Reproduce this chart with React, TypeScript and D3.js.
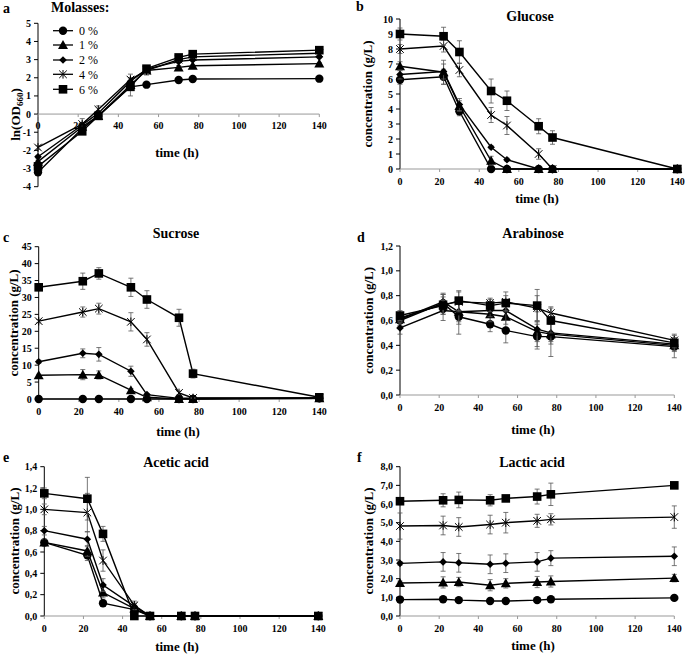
import React from "react";
import * as d3 from "d3";

// ---------- shared data ----------
const TIMES = [0, 22, 30, 46, 54, 70, 77, 140];
const SERIES_LABELS = ["0 %", "1 %", "2 %", "4 %", "6 %"];
const X_TICKS = [0, 20, 40, 60, 80, 100, 120, 140];

// a: ln(OD660)
const OD_0 = [-3.2, -0.8, -0.1, 1.5, 1.62, 1.88, 1.93, 1.95];
const OD_1 = [-2.62, -0.7, -0.1, 1.6, 2.4, 2.57, 2.66, 2.78];
const OD_2 = [-2.35, -0.6, 0.05, 1.8, 2.48, 2.9, 2.98, 3.15];
const OD_4 = [-1.84, -0.55, 0.25, 1.9, 2.4, 3.0, 3.15, 3.35];
const OD_6 = [-2.88, -0.95, -0.1, 1.5, 2.5, 3.12, 3.3, 3.52];
const OD_ERR_0 = [0.08, 0.1, 0.1, 0.5, 0.08, 0.05, 0.05, 0.05];
const OD_ERR_1 = [0.08, 0.1, 0.1, 0.2, 0.25, 0.1, 0.05, 0.05];
const OD_ERR_2 = [0.08, 0.1, 0.1, 0.2, 0.1, 0.1, 0.05, 0.05];
const OD_ERR_4 = [0.1, 0.3, 0.2, 0.3, 0.15, 0.1, 0.08, 0.05];
const OD_ERR_6 = [0.08, 0.1, 0.1, 0.15, 0.1, 0.08, 0.05, 0.05];

// b: glucose
const GLU_0 = [5.95, 6.15, 3.85, 0, 0, 0, 0, 0];
const GLU_1 = [6.85, 6.45, 4.2, 0.55, 0, 0, 0, 0];
const GLU_2 = [6.3, 6.5, 4.3, 1.45, 0.62, 0, 0, 0];
const GLU_4 = [8.0, 8.2, 6.6, 3.6, 2.9, 1.0, 0, 0];
const GLU_6 = [9.0, 8.85, 7.8, 5.2, 4.55, 2.85, 2.1, 0];
const GLU_ERR_0 = [0.3, 0.5, 0.3, 0, 0, 0, 0, 0];
const GLU_ERR_1 = [0.3, 0.8, 0.35, 0.3, 0, 0, 0, 0];
const GLU_ERR_2 = [0.3, 0.5, 0.4, 0.1, 0.1, 0, 0, 0];
const GLU_ERR_4 = [0.3, 0.4, 0.45, 0.5, 0.6, 0.35, 0, 0];
const GLU_ERR_6 = [0.4, 0.6, 0.75, 0.8, 0.65, 0.5, 0.45, 0];

// c: sucrose
const SUC_0 = [0, 0, 0, 0, 0, 0, 0, 0.2];
const SUC_1 = [7.0, 7.2, 7.1, 2.6, 0.5, 0, 0, 0.2];
const SUC_2 = [11.0, 13.5, 13.2, 8.2, 1.3, 0.2, 0.2, 0.3];
const SUC_4 = [23.0, 25.7, 26.7, 22.8, 17.6, 1.8, 0.3, 0.3];
const SUC_6 = [33.0, 34.8, 37.1, 33.0, 29.4, 24.0, 7.5, 0.5];
const SUC_ERR_0 = [0, 0, 0, 0, 0, 0, 0, 0];
const SUC_ERR_1 = [0.3, 1.5, 1.2, 0.5, 0.3, 0, 0, 0];
const SUC_ERR_2 = [0.5, 1.3, 2.0, 1.5, 0.3, 0, 0, 0];
const SUC_ERR_4 = [0.5, 1.5, 1.6, 2.7, 2.0, 0.5, 0.2, 0];
const SUC_ERR_6 = [0.5, 2.4, 1.7, 2.7, 2.6, 2.5, 1.3, 0.3];

// d: arabinose
const ARA_0 = [0.6, 0.74, 0.63, 0.57, 0.52, 0.47, 0.47, 0.39];
const ARA_1 = [0.61, 0.75, 0.67, 0.65, 0.63, 0.51, 0.49, 0.4];
const ARA_2 = [0.54, 0.68, 0.67, 0.68, 0.68, 0.53, 0.5, 0.41];
const ARA_4 = [0.62, 0.73, 0.75, 0.74, 0.75, 0.7, 0.66, 0.44];
const ARA_6 = [0.64, 0.72, 0.76, 0.72, 0.74, 0.72, 0.6, 0.42];
const ARA_ERR_0 = [0.05, 0.07, 0.14, 0.06, 0.1, 0.1, 0.16, 0.09];
const ARA_ERR_1 = [0.05, 0.07, 0.08, 0.06, 0.06, 0.08, 0.08, 0.05];
const ARA_ERR_2 = [0.05, 0.08, 0.1, 0.05, 0.08, 0.14, 0.07, 0.05];
const ARA_ERR_4 = [0.04, 0.08, 0.08, 0.04, 0.08, 0.1, 0.05, 0.05];
const ARA_ERR_6 = [0.04, 0.07, 0.08, 0.05, 0.06, 0.13, 0.1, 0.04];

// e: acetic acid
const ACE_0 = [0.69, 0.57, 0.12, 0.06, 0, 0, 0, 0];
const ACE_1 = [0.69, 0.61, 0.22, 0.07, 0, 0, 0, 0];
const ACE_2 = [0.8, 0.72, 0.29, 0.09, 0, 0, 0, 0];
const ACE_4 = [1.0, 0.97, 0.52, 0.1, 0, 0, 0, 0];
const ACE_6 = [1.15, 1.1, 0.77, 0, 0, 0, 0, 0];
const ACE_ERR_0 = [0.03, 0.05, 0.03, 0.02, 0, 0, 0, 0];
const ACE_ERR_1 = [0.03, 0.05, 0.05, 0.03, 0, 0, 0, 0];
const ACE_ERR_2 = [0.04, 0.07, 0.06, 0.03, 0, 0, 0, 0];
const ACE_ERR_4 = [0.05, 0.18, 0.1, 0.04, 0, 0, 0, 0];
const ACE_ERR_6 = [0.05, 0.2, 0.07, 0, 0, 0, 0, 0];

// f: lactic acid
const LAC_0 = [0.88, 0.9, 0.85, 0.8, 0.8, 0.85, 0.9, 0.97];
const LAC_1 = [1.77, 1.8, 1.82, 1.65, 1.75, 1.82, 1.85, 2.03];
const LAC_2 = [2.82, 2.9, 2.85, 2.77, 2.83, 2.9, 3.1, 3.2];
const LAC_4 = [4.82, 4.85, 4.77, 4.9, 5.0, 5.1, 5.18, 5.3];
const LAC_6 = [6.15, 6.2, 6.22, 6.2, 6.3, 6.4, 6.52, 7.0];
const LAC_ERR_0 = [0.05, 0.05, 0.1, 0.05, 0.05, 0.1, 0.05, 0.1];
const LAC_ERR_1 = [0.1, 0.3, 0.25, 0.3, 0.25, 0.3, 0.3, 0.2];
const LAC_ERR_2 = [0.1, 0.5, 0.5, 0.5, 0.5, 0.5, 0.4, 0.5];
const LAC_ERR_4 = [0.7, 0.5, 0.5, 0.5, 0.55, 0.35, 0.3, 0.6];
const LAC_ERR_6 = [0.1, 0.35, 0.42, 0.3, 0.1, 0.4, 0.6, 0.1];

const MARKERS = ["circle", "triangle", "diamond", "asterisk", "square"];

type Panel = {
  letter: string;
  title: string;
  ylabel: string;
  ydomain: [number, number];
  ystep: number;
  comma: boolean;
  values: number[][];
  errors: number[][];
  x0: number; x1: number; yTop: number; yBot: number;
  xAxisAtZero: boolean;
  letterPos: [number, number];
  titlePos: [number, number];
  xlabelPos: [number, number];
  ylabelPos: [number, number];
};

const PANELS: Panel[] = [
  {
    letter: "a", title: "", ylabel: "OD", ydomain: [-4, 5], ystep: 1, comma: false,
    values: [OD_0, OD_1, OD_2, OD_4, OD_6], errors: [OD_ERR_0, OD_ERR_1, OD_ERR_2, OD_ERR_4, OD_ERR_6],
    x0: 38, x1: 319.3, yTop: 23.3, yBot: 186.7, xAxisAtZero: true,
    letterPos: [3, 12.5], titlePos: [0, 0], xlabelPos: [177, 156.5], ylabelPos: [15, 114.5],
  },
  {
    letter: "b", title: "Glucose", ylabel: "concentration (g/L)", ydomain: [0, 10], ystep: 1, comma: false,
    values: [GLU_0, GLU_1, GLU_2, GLU_4, GLU_6], errors: [GLU_ERR_0, GLU_ERR_1, GLU_ERR_2, GLU_ERR_4, GLU_ERR_6],
    x0: 400, x1: 677.3, yTop: 19, yBot: 169, xAxisAtZero: false,
    letterPos: [356, 10.7], titlePos: [530, 16], xlabelPos: [537, 203], ylabelPos: [367, 94],
  },
  {
    letter: "c", title: "Sucrose", ylabel: "concentration (g/L)", ydomain: [0, 45], ystep: 5, comma: false,
    values: [SUC_0, SUC_1, SUC_2, SUC_4, SUC_6], errors: [SUC_ERR_0, SUC_ERR_1, SUC_ERR_2, SUC_ERR_4, SUC_ERR_6],
    x0: 38.7, x1: 319.3, yTop: 246.7, yBot: 399, xAxisAtZero: false,
    letterPos: [3, 242], titlePos: [176, 233], xlabelPos: [178, 436], ylabelPos: [13, 323],
  },
  {
    letter: "d", title: "Arabinose", ylabel: "concentration (g/L)", ydomain: [0, 1.2], ystep: 0.2, comma: true,
    values: [ARA_0, ARA_1, ARA_2, ARA_4, ARA_6], errors: [ARA_ERR_0, ARA_ERR_1, ARA_ERR_2, ARA_ERR_4, ARA_ERR_6],
    x0: 400, x1: 674.3, yTop: 246, yBot: 395, xAxisAtZero: false,
    letterPos: [357, 242], titlePos: [533, 233], xlabelPos: [533, 434], ylabelPos: [368, 320.5],
  },
  {
    letter: "e", title: "Acetic acid", ylabel: "concentration (g/L)", ydomain: [0, 1.4], ystep: 0.2, comma: true,
    values: [ACE_0, ACE_1, ACE_2, ACE_4, ACE_6], errors: [ACE_ERR_0, ACE_ERR_1, ACE_ERR_2, ACE_ERR_4, ACE_ERR_6],
    x0: 44.3, x1: 318.3, yTop: 466.7, yBot: 616, xAxisAtZero: false,
    letterPos: [3, 461.7], titlePos: [176, 462], xlabelPos: [177, 651], ylabelPos: [14, 541],
  },
  {
    letter: "f", title: "Lactic acid", ylabel: "concentration (g/L)", ydomain: [0, 8], ystep: 1, comma: true,
    values: [LAC_0, LAC_1, LAC_2, LAC_4, LAC_6], errors: [LAC_ERR_0, LAC_ERR_1, LAC_ERR_2, LAC_ERR_4, LAC_ERR_6],
    x0: 400, x1: 674.3, yTop: 466.7, yBot: 616, xAxisAtZero: false,
    letterPos: [357, 461.7], titlePos: [532, 462], xlabelPos: [533, 650], ylabelPos: [368, 541],
  },
];

const FONT = "Liberation Serif, Times New Roman, serif";

function Marker({ type, x, y }: { type: string; x: number; y: number }) {
  switch (type) {
    case "circle":
      return <circle cx={x} cy={y} r={4.2} fill="#000" />;
    case "triangle": {
      const s = 5;
      return <path d={`M${x},${y - s}L${x + s},${y + s * 0.8}L${x - s},${y + s * 0.8}Z`} fill="#000" />;
    }
    case "diamond": {
      const s = 3.8;
      return <path d={`M${x},${y - s}L${x + s},${y}L${x},${y + s}L${x - s},${y}Z`} fill="#000" />;
    }
    case "square": {
      const s = 4.3;
      return <rect x={x - s} y={y - s} width={2 * s} height={2 * s} fill="#000" />;
    }
    case "asterisk": {
      const s = 3.8;
      return (
        <g stroke="#000" strokeWidth={1}>
          <line x1={x - s} y1={y - s} x2={x + s} y2={y + s} />
          <line x1={x - s} y1={y + s} x2={x + s} y2={y - s} />
          <line x1={x} y1={y - s - 0.5} x2={x} y2={y + s + 0.5} />
        </g>
      );
    }
  }
  return null;
}

function fmt(v: number, comma: boolean) {
  if (!comma) return String(Math.round(v));
  return v.toFixed(1).replace(".", ",");
}

function PanelView({ p }: { p: Panel }) {
  const x = d3.scaleLinear().domain([0, 140]).range([p.x0, p.x1]);
  const y = d3.scaleLinear().domain(p.ydomain).range([p.yBot, p.yTop]);
  const yTicks = d3.range(p.ydomain[0], p.ydomain[1] + p.ystep / 2, p.ystep);
  const axisY = p.xAxisAtZero ? y(0) : p.yBot;
  const line = d3
    .line<number>()
    .x((_, i) => x(TIMES[i]))
    .y((d) => y(d));

  return (
    <g style={{ fontFamily: FONT }}>
      <line x1={p.x0} x2={p.x0} y1={p.yTop} y2={p.yBot} stroke="#000" strokeWidth={1} />
      {yTicks.map((t, i) => (
        <g key={i}>
          <line x1={p.x0 - 4} x2={p.x0} y1={y(t)} y2={y(t)} stroke="#000" strokeWidth={1} />
          <text x={p.x0 - 7} y={y(t)} dy="0.35em" textAnchor="end" fontSize={10} fontWeight="bold">
            {fmt(t, p.comma)}
          </text>
        </g>
      ))}
      <line x1={p.x0} x2={p.x1} y1={axisY} y2={axisY} stroke="#999" strokeWidth={1} />
      {X_TICKS.map((t, i) => (
        <g key={i}>
          <line x1={x(t)} x2={x(t)} y1={axisY} y2={axisY + 3} stroke="#999" strokeWidth={1} />
          <text x={x(t)} y={axisY + (p.xAxisAtZero ? 14.5 : 16)} textAnchor="middle" fontSize={10} fontWeight="bold">
            {t}
          </text>
        </g>
      ))}
      {p.values.map((vals, si) => (
        <g key={si}>
          <path d={line(vals) || ""} fill="none" stroke="#000" strokeWidth={1.4} />
          {vals.map((v, i) => {
            const e = p.errors[si][i];
            if (!e) return null;
            const cx = x(TIMES[i]);
            return (
              <g key={i} stroke="#555" strokeWidth={0.8}>
                <line x1={cx} x2={cx} y1={y(v - e)} y2={y(v + e)} />
                <line x1={cx - 2.5} x2={cx + 2.5} y1={y(v - e)} y2={y(v - e)} />
                <line x1={cx - 2.5} x2={cx + 2.5} y1={y(v + e)} y2={y(v + e)} />
              </g>
            );
          })}
          {vals.map((v, i) => (
            <Marker key={i} type={MARKERS[si]} x={x(TIMES[i])} y={y(v)} />
          ))}
        </g>
      ))}
      <text x={p.letterPos[0]} y={p.letterPos[1]} fontSize={14} fontWeight="bold">
        {p.letter}
      </text>
      {p.title && (
        <text x={p.titlePos[0]} y={p.titlePos[1]} dy="0.35em" textAnchor="middle" fontSize={14} fontWeight="bold">
          {p.title}
        </text>
      )}
      <text x={p.xlabelPos[0]} y={p.xlabelPos[1]} textAnchor="middle" fontSize={13} fontWeight="bold">
        time (h)
      </text>
      <text
        transform={`translate(${p.ylabelPos[0]},${p.ylabelPos[1]}) rotate(-90)`}
        dy="0.35em"
        textAnchor="middle"
        fontSize={13}
        fontWeight="bold"
      >
        {p.ylabel === "OD" ? (
          <>
            ln(OD<tspan fontSize={9} dy="3">660</tspan>
            <tspan dy="-3">)</tspan>
          </>
        ) : (
          p.ylabel
        )}
      </text>
    </g>
  );
}

function Legend() {
  const rows = [30.7, 45, 60, 74.3, 89.3];
  return (
    <g style={{ fontFamily: FONT }}>
      <text x={51} y={11.5} fontSize={14} fontWeight="bold">
        Molasses:
      </text>
      {SERIES_LABELS.map((lab, i) => (
        <g key={i}>
          <line x1={53} x2={73} y1={rows[i]} y2={rows[i]} stroke="#000" strokeWidth={1.3} />
          <Marker type={MARKERS[i]} x={63} y={rows[i]} />
          <text x={79} y={rows[i]} dy="0.35em" fontSize={12}>
            {lab}
          </text>
        </g>
      ))}
    </g>
  );
}

export default function App() {
  return (
    <svg
      width={685}
      height={654}
      style={{ position: "absolute", left: 0, top: 0, background: "#fff" }}
    >
      <rect width={685} height={654} fill="#fff" />
      {PANELS.map((p, i) => (
        <PanelView key={i} p={p} />
      ))}
      <Legend />
    </svg>
  );
}
